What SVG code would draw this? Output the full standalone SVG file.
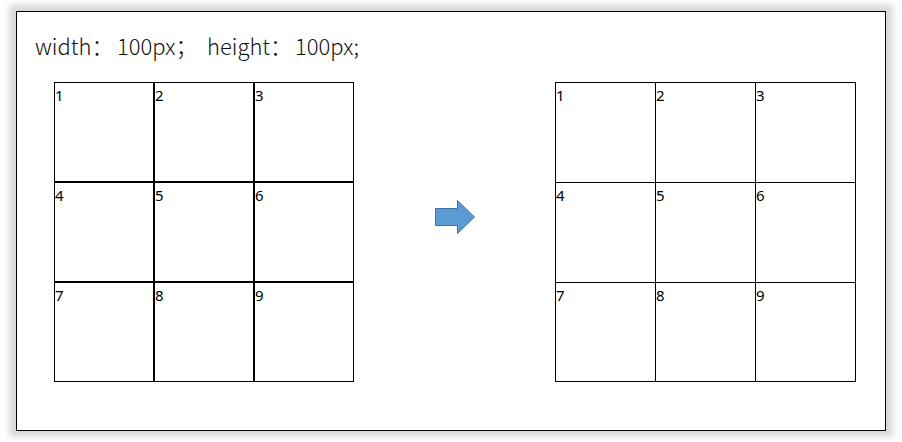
<svg xmlns="http://www.w3.org/2000/svg" width="902" height="442" viewBox="0 0 902 442">
<defs>
<filter id="sh" x="-5%" y="-5%" width="110%" height="110%">
<feGaussianBlur stdDeviation="3"/>
</filter>
<style>
.num{font-family:"Noto Sans","DejaVu Sans",sans-serif;font-size:15px;fill:#000}
.cellA{fill:#fff;stroke:#000;stroke-width:1}
.line{stroke:#000;stroke-width:1;fill:none}
.title{font-family:"Noto Sans CJK SC","Noto Sans",sans-serif;font-size:22px;font-weight:300;fill:#111}
</style>
</defs>
<rect x="0" y="0" width="902" height="442" fill="#fff"/>
<rect x="9" y="5" width="884" height="432" fill="#d8d8d8" filter="url(#sh)"/>
<rect x="16.5" y="11.5" width="869" height="419" fill="#fff" stroke="#000" stroke-width="1"/>
<g id="title">
<text class="title" x="35" y="55">width：</text>
<text class="title" x="117" y="55">100px；</text>
<text class="title" x="207" y="55">height：</text>
<text class="title" x="295" y="55">100px;</text>
</g>
<g id="left-grid">
<g id="L1"><rect class="cellA" x="54.5" y="82.5" width="99" height="99"/><text class="num" x="55" y="101">1</text></g>
<g id="L2"><rect class="cellA" x="154.5" y="82.5" width="99" height="99"/><text class="num" x="155" y="101">2</text></g>
<g id="L3"><rect class="cellA" x="254.5" y="82.5" width="99" height="99"/><text class="num" x="255" y="101">3</text></g>
<g id="L4"><rect class="cellA" x="54.5" y="182.5" width="99" height="99"/><text class="num" x="55" y="201">4</text></g>
<g id="L5"><rect class="cellA" x="154.5" y="182.5" width="99" height="99"/><text class="num" x="155" y="201">5</text></g>
<g id="L6"><rect class="cellA" x="254.5" y="182.5" width="99" height="99"/><text class="num" x="255" y="201">6</text></g>
<g id="L7"><rect class="cellA" x="54.5" y="282.5" width="99" height="99"/><text class="num" x="55" y="301">7</text></g>
<g id="L8"><rect class="cellA" x="154.5" y="282.5" width="99" height="99"/><text class="num" x="155" y="301">8</text></g>
<g id="L9"><rect class="cellA" x="254.5" y="282.5" width="99" height="99"/><text class="num" x="255" y="301">9</text></g>
</g>
<g id="connectors">
<path id="arrow" d="M435.5,208.5 H457.5 V200.5 L474.5,217 L457.5,233.5 V225.5 H435.5 Z" fill="#5b9bd5" stroke="#41719c" stroke-width="1"/>
</g>
<g id="right-grid">
<rect class="line" x="555.5" y="82.5" width="300" height="299"/>
<path class="line" d="M655.5,82.5 V381.5 M755.5,82.5 V381.5 M555.5,182.5 H855.5 M555.5,282.5 H855.5"/>
<g id="R1"><text class="num" x="556" y="101">1</text></g>
<g id="R2"><text class="num" x="656" y="101">2</text></g>
<g id="R3"><text class="num" x="756" y="101">3</text></g>
<g id="R4"><text class="num" x="556" y="201">4</text></g>
<g id="R5"><text class="num" x="656" y="201">5</text></g>
<g id="R6"><text class="num" x="756" y="201">6</text></g>
<g id="R7"><text class="num" x="556" y="301">7</text></g>
<g id="R8"><text class="num" x="656" y="301">8</text></g>
<g id="R9"><text class="num" x="756" y="301">9</text></g>
</g>
</svg>
